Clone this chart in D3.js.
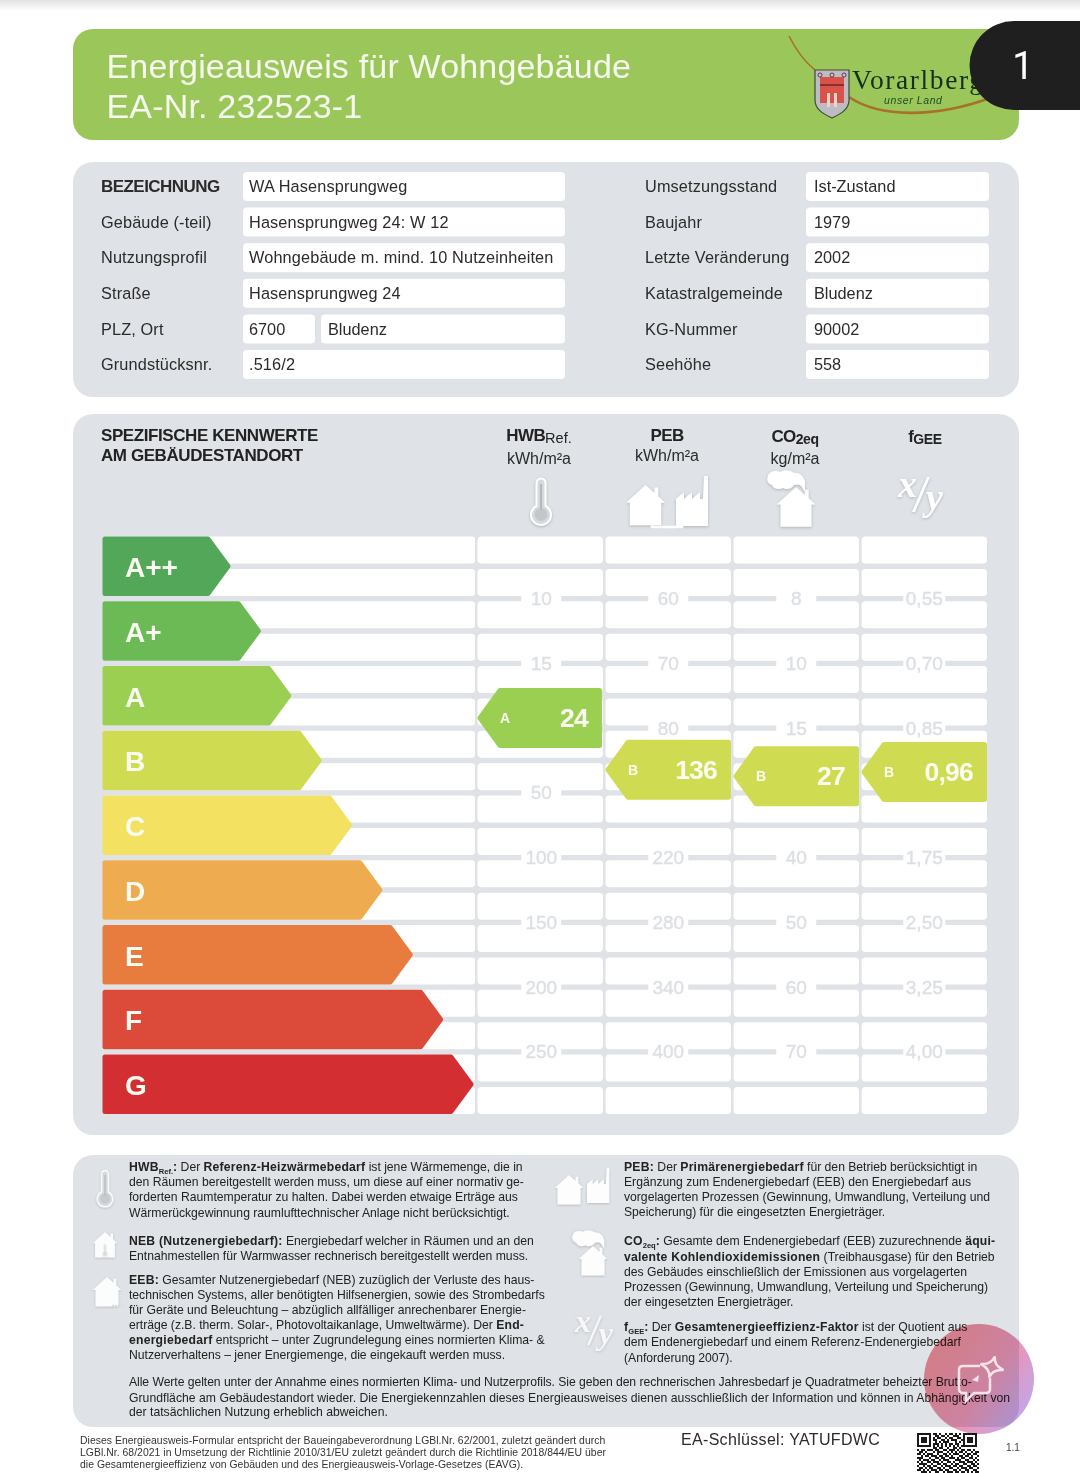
<!DOCTYPE html>
<html lang="de"><head><meta charset="utf-8">
<script src="https://d3js.org/d3.v7.min.js"></script>
<style>html,body{margin:0;padding:0;background:#fff}svg{display:block}text{font-family:"Liberation Sans",Arial,sans-serif}</style>
</head><body><div id="c"></div>
<script>
// ---------- data ----------
const classes=["A++","A+","A","B","C","D","E","F","G"];
const classColors=["#52a858","#6cba55","#9bcf52","#cfdc52","#f3e162","#eeab4f","#e87c3f","#dc4a3a","#d32f33"];
const colNames=["HWB","PEB","CO2","fGEE"];
const hwbTicks=[10,15,25,50,100,150,200,250];
const pebTicks=[60,70,80,160,220,280,340,400];
const co2Ticks=[8,10,15,30,40,50,60,70];
const fgeeTicks=[0.55,0.70,0.85,1.00,1.75,2.50,3.25,4.00];
const resultValues=[24,136,27,0.96];
const resultClasses=["A","B","B","B"];
const leftFields=[["BEZEICHNUNG","WA Hasensprungweg"],["Gebäude (-teil)","Hasensprungweg 24: W 12"],["Nutzungsprofil","Wohngebäude m. mind. 10 Nutzeinheiten"],["Straße","Hasensprungweg 24"],["PLZ, Ort","6700","Bludenz"],["Grundstücksnr.",".516/2"]];
const rightFields=[["Umsetzungsstand","Ist-Zustand"],["Baujahr","1979"],["Letzte Veränderung","2002"],["Katastralgemeinde","Bludenz"],["KG-Nummer","90002"],["Seehöhe","558"]];
const notesLeft=[
 "**HWB**~Ref.~**:** Der **Referenz-Heizwärmebedarf** ist jene Wärmemenge, die in","den Räumen bereitgestellt werden muss, um diese auf einer normativ ge-","forderten Raumtemperatur zu halten. Dabei werden etwaige Erträge aus","Wärmerückgewinnung raumlufttechnischer Anlage nicht berücksichtigt.",
 "**NEB (Nutzenergiebedarf):** Energiebedarf welcher in Räumen und an den","Entnahmestellen für Warmwasser rechnerisch bereitgestellt werden muss.",
 "**EEB:** Gesamter Nutzenergiebedarf (NEB) zuzüglich der Verluste des haus-","technischen Systems, aller benötigten Hilfsenergien, sowie des Strombedarfs","für Geräte und Beleuchtung – abzüglich allfälliger anrechenbarer Energie-","erträge (z.B. therm. Solar-, Photovoltaikanlage, Umweltwärme). Der **End-**","**energiebedarf** entspricht – unter Zugrundelegung eines normierten Klima- &","Nutzerverhaltens – jener Energiemenge, die eingekauft werden muss."];
const notesRight=[
 "**PEB:** Der **Primärenergiebedarf** für den Betrieb berücksichtigt in","Ergänzung zum Endenergiebedarf (EEB) den Energiebedarf aus","vorgelagerten Prozessen (Gewinnung, Umwandlung, Verteilung und","Speicherung) für die eingesetzten Energieträger.",
 "**CO**~2eq~**:** Gesamte dem Endenergiebedarf (EEB) zuzurechnende **äqui-**","**valente Kohlendioxidemissionen** (Treibhausgase) für den Betrieb","des Gebäudes einschließlich der Emissionen aus vorgelagerten","Prozessen (Gewinnung, Umwandlung, Verteilung und Speicherung)","der eingesetzten Energieträger.",
 "**f**~GEE~**:** Der **Gesamtenergieeffizienz-Faktor** ist der Quotient aus","dem Endenergiebedarf und einem Referenz-Endenergiebedarf","(Anforderung 2007)."];
const notesBottom=["Alle Werte gelten unter der Annahme eines normierten Klima- und Nutzerprofils. Sie geben den rechnerischen Jahresbedarf je Quadratmeter beheizter Brutto-","Grundfläche am Gebäudestandort wieder. Die Energiekennzahlen dieses Energieausweises dienen ausschließlich der Information und können in Abhängigkeit von","der tatsächlichen Nutzung erheblich abweichen."];
const footerLines=["Dieses Energieausweis-Formular entspricht der Baueingabeverordnung LGBl.Nr. 62/2001, zuletzt geändert durch","LGBl.Nr. 68/2021 in Umsetzung der Richtlinie 2010/31/EU zuletzt geändert durch die Richtlinie 2018/844/EU über","die Gesamtenergieeffizienz von Gebäuden und des Energieausweis-Vorlage-Gesetzes (EAVG)."];
const qrRows=["1111111011010010110101011111110","1000001001101101001110010000010","1011101010110010110011010111010","1011101011001101011100110111010","1011101001010111000101010111010","1000001011101010110110010000010","1111111010101010101010111111110","0000000011011001001101000000000","1011011101100110111010110110100","0110100010111001010101101001011","1101011100100110101110010110110","0010110111011011010001101101001","1110001001101100111010110011010","0101110110010111000111001100101","1010011011101001101001110111010","0111100100110110010110011001101","1001011011001011101101100110110","0110101100110100110010111011001","1101010111011011001101001100110","0011101001100101110110110101011"];
// ---------- scales ----------
const W=1080,H=1473;
const svg=d3.select("#c").append("svg").attr("width",W).attr("height",H).attr("viewBox",`0 0 ${W} ${H}`);
const rowTop=d3.scaleLinear().domain([0,8]).range([536.5,1054.5]);
const tipX=d3.scalePoint().domain(classes).range([230.5,473.5]);
const colX=d3.scaleBand().domain(colNames).range([477.5,987]).paddingInner(0.02).paddingOuter(0);
const tickY=d3.range(8).map(i=>rowTop(i)+61.5);
const yScales={HWB:d3.scaleLinear().domain(hwbTicks).range(tickY),PEB:d3.scaleLinear().domain(pebTicks).range(tickY),CO2:d3.scaleLinear().domain(co2Ticks).range(tickY),fGEE:d3.scaleLinear().domain(fgeeTicks).range(tickY)};
const colTicks={HWB:hwbTicks,PEB:pebTicks,CO2:co2Ticks,fGEE:fgeeTicks};
const fmt={HWB:d=>d,PEB:d=>d,CO2:d=>d,fGEE:d=>d3.format(".2f")(d).replace(".",",")};
const colorOf=d3.scaleOrdinal().domain(classes).range(classColors);
// ---------- defs ----------
const defs=svg.append("defs");
const g1=defs.append("linearGradient").attr("id","top").attr("x1",0).attr("x2",0).attr("y1",0).attr("y2",1);
g1.append("stop").attr("offset",0).attr("stop-color","#e2e2e2");g1.append("stop").attr("offset",1).attr("stop-color","#fff");
const g2=defs.append("linearGradient").attr("id","ai").attr("x1",0.1).attr("y1",0.3).attr("x2",0.9).attr("y2",0.85);
g2.append("stop").attr("offset",0).attr("stop-color","#f08d98");g2.append("stop").attr("offset",0.55).attr("stop-color","#ea94b2");g2.append("stop").attr("offset",1).attr("stop-color","#c4a6ea");
const fl=defs.append("filter").attr("id","sh").attr("x","-30%").attr("y","-30%").attr("width","160%").attr("height","160%");
fl.append("feDropShadow").attr("dx",0).attr("dy",1).attr("stdDeviation",1.6).attr("flood-color","#9aa0a6").attr("flood-opacity",0.7);
const PANEL="#dfe2e6";
// ---------- helpers ----------
function rich(sel,str,x,y,size,fill){
  const t=sel.append("text").attr("x",x).attr("y",y).attr("font-size",size).attr("fill",fill||"#222");
  let back=0;
  str.split(/(\*\*.*?\*\*|~.*?~)/).filter(s=>s).forEach(p=>{
    let sp;
    if(p.startsWith("**"))sp=t.append("tspan").attr("font-weight","bold").attr("letter-spacing",0.22).text(p.slice(2,-2));
    else if(p.startsWith("~")){t.append("tspan").attr("font-size",size*0.62).attr("font-weight","bold").attr("dy",2.5).text(p.slice(1,-1));back=-2.5;return;}
    else sp=t.append("tspan").text(p);
    if(back){sp.attr("dy",back);back=0;}
  });
  return t;
}
function arrowPath(l,r,t,h,s){return `M${l},${t}H${r-s}L${r},${t+h/2}L${r-s},${t+h}H${l}Z`;}
function tagPath(l,r,t,h,s){return `M${r},${t}V${t+h}H${l+s}L${l},${t+h/2}L${l+s},${t}Z`;}
const thermo=(g,x,y,k,o)=>{const a=g.append("g").attr("transform",`translate(${x},${y}) scale(${k})`).attr("filter","url(#sh)").attr("opacity",o||1);
  a.append("path").attr("d","M-4.5,27V4a4.5,4.5 0 0 1 9,0V27a10,10 0 1 1 -9,0Z").attr("fill","#d6d9dd").attr("stroke","#fff").attr("stroke-width",2);
  a.append("circle").attr("cy",35.5).attr("r",6.5).attr("fill","#c3c6ca");a.append("rect").attr("x",-1).attr("y",5).attr("width",2).attr("height",26).attr("fill","#b5b8bc");};
const house=(g,x,y,k,o)=>g.append("path").attr("transform",`translate(${x},${y}) scale(${k})`).attr("filter","url(#sh)").attr("opacity",o||1).attr("fill","#fff").attr("d","M0,0L9,8V2.5H13V11.5L20,18H16V41H-16V18H-20Z");
const factory=(g,x,y,k,o)=>g.append("path").attr("transform",`translate(${x},${y}) scale(${k})`).attr("filter","url(#sh)").attr("opacity",o||1).attr("fill","#fff").attr("d","M0,23L8,16V23L16,16V23L24,16V23H27L28,0H32V50H0Z");
const cloud=(g,x,y,k,o)=>g.append("path").attr("transform",`translate(${x},${y}) scale(${k})`).attr("filter","url(#sh)").attr("opacity",o||1).attr("fill","#fff").attr("d","M1,6C2,1 9,0 13,2C17,-1 24,0 27,3C32,2 37,6 38,12L38,22L35,17C33,14 30,14 27,15C25,19 19,20 16,18C12,20 6,19 5,15C1,14 -1,10 1,6Z");
const xy=(g,x,y,k,o)=>{const a=g.append("g").attr("transform",`translate(${x},${y}) scale(${k})`).attr("filter","url(#sh)").attr("opacity",o||1).attr("fill","#fff");
  a.append("text").style("font-family","'Liberation Serif'").attr("font-style","italic").attr("font-weight","bold").attr("font-size",38).attr("y",17).text("x");
  a.append("path").attr("d","M29,-3H32L17,32H14Z");
  a.append("text").style("font-family","'Liberation Serif'").attr("font-style","italic").attr("font-weight","bold").attr("font-size",38).attr("x",28).attr("y",30).text("y");};
// ---------- background ----------
svg.append("rect").attr("width",W).attr("height",H).attr("fill","#fff");
svg.append("rect").attr("width",W).attr("height",11).attr("fill","url(#top)");
// ---------- header ----------
svg.append("rect").attr("x",73).attr("y",29).attr("width",946).attr("height",111).attr("rx",20).attr("fill","#9bc75a");
const hdr=svg.append("g").attr("fill","#f5f9ee").attr("font-size",34);
hdr.append("text").attr("x",106.5).attr("y",78).attr("letter-spacing",0.18).text("Energieausweis für Wohngebäude");
hdr.append("text").attr("x",106.5).attr("y",118).attr("letter-spacing",0.18).text("EA-Nr. 232523-1");
// logo
svg.append("path").attr("d","M789,36C796,50 805,62 815,70").attr("fill","none").attr("stroke","#a8702b").attr("stroke-width",1.6);
svg.append("path").attr("d","M849,97C880,118 935,118 990,98").attr("fill","none").attr("stroke","#a8702b").attr("stroke-width",2.6);
const sh=svg.append("g");
sh.append("path").attr("d","M815,70H849V100C849,110 840,114 832,118C824,114 815,110 815,100Z").attr("fill","#bcbcc2").attr("stroke","#3d4a3a").attr("stroke-width",1.2);
sh.append("rect").attr("x",820).attr("y",77).attr("width",24).attr("height",26).attr("fill","#d8524a");
sh.append("rect").attr("x",820).attr("y",84).attr("width",24).attr("height",2).attr("fill","#8a2f2a");
sh.append("rect").attr("x",827).attr("y",93).attr("width",3).attr("height",14).attr("fill","#f0d3c8");
sh.append("rect").attr("x",834).attr("y",93).attr("width",3).attr("height",14).attr("fill","#f0d3c8");
sh.selectAll("circle").data([820,832,844]).join("circle").attr("cx",d=>d).attr("cy",75).attr("r",2).attr("fill","#c9c9cc").attr("stroke","#5a3a4a");
svg.append("text").style("font-family","'Liberation Serif'").attr("x",852).attr("y",89).attr("font-size",27.5).attr("letter-spacing",1.6).attr("fill","#12311c").text("Vorarlberg");
svg.append("text").attr("x",884).attr("y",103.5).attr("font-size",10.5).attr("font-style","italic").attr("fill","#1f4a28").attr("letter-spacing",0.6).text("unser Land");
// tab
svg.append("path").attr("d","M1080,21H1014A44.5,44.5 0 0 0 1014,110H1080Z").attr("fill","#1f1f1f");
svg.append("text").style("font-family","Roboto").attr("x",1023).attr("y",79).attr("text-anchor","middle").attr("font-size",38).attr("fill","#fff").text("1");
// ---------- info panel ----------
svg.append("rect").attr("x",73).attr("y",162).attr("width",946).attr("height",235).attr("rx",20).attr("fill",PANEL);
const infoY=d3.scaleLinear().domain([0,5]).range([172,350]);
const info=svg.append("g").attr("font-size",16.3).attr("fill","#2b2b2b");
function box(x,y,w){info.append("rect").attr("x",x).attr("y",y).attr("width",w).attr("height",29).attr("rx",4).attr("fill","#fff");}
leftFields.forEach((f,i)=>{const y=infoY(i);
  info.append("text").attr("x",101).attr("y",y+20.2).attr("font-weight",i?null:"bold").attr("letter-spacing",i?0.13:-0.55).attr("font-size",i?16.3:17).text(f[0]);
  if(f.length===3){box(243,y,72);box(321,y,244);info.append("text").attr("x",249).attr("y",y+20.2).text(f[1]);info.append("text").attr("x",328).attr("y",y+20.2).text(f[2]);}
  else{box(243,y,322);info.append("text").attr("x",249).attr("y",y+20.2).attr("letter-spacing",0.14).text(f[1]);}
});
rightFields.forEach((f,i)=>{const y=infoY(i);
  info.append("text").attr("x",645).attr("y",y+20.2).attr("letter-spacing",0.13).text(f[0]);
  box(806,y,183);info.append("text").attr("x",814).attr("y",y+20.2).text(f[1]);
});
// ---------- chart panel ----------
svg.append("rect").attr("x",73).attr("y",414).attr("width",946).attr("height",721).attr("rx",20).attr("fill",PANEL);
const ch=svg.append("g");
ch.append("text").attr("x",101).attr("y",441).attr("font-size",17).attr("font-weight","bold").attr("letter-spacing",-0.42).attr("fill","#222").text("SPEZIFISCHE KENNWERTE");
ch.append("text").attr("x",101).attr("y",461).attr("font-size",17).attr("font-weight","bold").attr("letter-spacing",-0.42).attr("fill","#222").text("AM GEBÄUDESTANDORT");
// column heads
const heads=[{c:539,y:441,u:"kWh/m²a",uy:464,m:"HWB",s:"Ref.",sb:false},{c:667,y:441,u:"kWh/m²a",uy:461,m:"PEB",s:"",sb:true},{c:795,y:442,u:"kg/m²a",uy:464,m:"CO",s:"2eq",sb:true},{c:925,y:442,u:"",m:"f",s:"GEE",sb:true}];
heads.forEach(h=>{
  const t=ch.append("text").attr("x",h.c).attr("y",h.y).attr("text-anchor","middle").attr("font-size",17).attr("fill","#222");
  t.append("tspan").attr("font-weight","bold").attr("letter-spacing",-0.6).text(h.m);
  if(h.s)t.append("tspan").attr("dy",2).attr("font-size",h.sb?14:14.5).attr("font-weight",h.sb?"bold":null).attr("letter-spacing",h.sb?-0.4:0).text(h.s);
  if(h.u)ch.append("text").attr("x",h.c).attr("y",h.uy).attr("text-anchor","middle").attr("font-size",16).attr("fill","#2b2b2b").text(h.u);
});
thermo(ch,541,479,1);
house(ch,645.5,485,0.98);factory(ch,676,476,1);
ch.append("path").attr("d","M652,522V527H682V522").attr("fill","none").attr("stroke","#fff").attr("stroke-width",2.5);
house(ch,796,487,0.97);cloud(ch,767,470,1);
xy(ch,898,480,1);
// cells
const rows=d3.range(9);
ch.append("g").selectAll("rect").data(rows.flatMap(i=>[[i,0],[i,1]])).join("rect")
  .attr("x",103).attr("width",372).attr("y",d=>rowTop(d[0])+d[1]*32.5).attr("height",27).attr("rx",3).attr("fill","#fff");
colNames.forEach((c,ci)=>{
  ch.append("g").selectAll("rect").data(rows.flatMap(i=>[[i,0],[i,1]])).join("rect")
    .attr("x",colX(c)).attr("width",colX.bandwidth()).attr("y",d=>rowTop(d[0])+d[1]*32.5).attr("height",27).attr("rx",4).attr("fill","#fff");
  const ty=yScales[c], covered=ty(resultValues[ci])-3;
  const gt=ch.append("g").selectAll("g").data(colTicks[c].filter(d=>Math.abs(ty(d)-covered)>30)).join("g").attr("transform",d=>`translate(${colX(c)+colX.bandwidth()/2+(c==="HWB"?1:0)},${ty(d)})`);
  gt.append("rect").attr("x",c==="fGEE"?-21:-20).attr("width",c==="fGEE"?42:40).attr("y",-9).attr("height",18).attr("fill","#fff");
  gt.append("text").attr("text-anchor","middle").attr("y",7).attr("font-size",19).attr("fill","#dde0e4").attr("stroke","#dde0e4").attr("stroke-width",0.45).text(fmt[c]);
});
// class arrows
const bars=ch.append("g").selectAll("g").data(classes).join("g");
bars.append("path").attr("d",(d,i)=>arrowPath(105,tipX(d)-2.5,rowTop(i)+2.5,54.5,20)).attr("fill",d=>colorOf(d)).attr("stroke",d=>colorOf(d)).attr("stroke-width",5).attr("stroke-linejoin","round");
bars.append("text").attr("x",125).attr("y",(d,i)=>rowTop(i)+40.5).attr("font-size",28).attr("font-weight","bold").attr("fill","#fafcf2").text(d=>d);
// result tags
colNames.forEach((c,i)=>{
  const y=yScales[c](resultValues[i])-3, l=colX(c), r=l+colX.bandwidth()-(i?0:1);
  const g=ch.append("g");
  g.append("path").attr("d",tagPath(l+2.5,r-2.5,y-27.5,55,20)).attr("fill",colorOf(resultClasses[i])).attr("stroke",colorOf(resultClasses[i])).attr("stroke-width",5).attr("stroke-linejoin","round");
  g.append("text").attr("x",l+27.5).attr("y",y+5).attr("text-anchor","middle").attr("font-size",14).attr("font-weight","bold").attr("fill","#fbfdf2").text(resultClasses[i]);
  g.append("text").attr("x",r-14).attr("y",y+9).attr("text-anchor","end").attr("font-size",26.5).attr("font-weight","bold").attr("letter-spacing",-0.8).attr("fill","#fbfdf2").text(fmt[c](resultValues[i]));
});
// ---------- notes panel ----------
svg.append("rect").attr("x",73).attr("y",1155).attr("width",946).attr("height",272).attr("rx",20).attr("fill",PANEL);
const nt=svg.append("g");
const leftY=[1171,1186,1201,1217,1245,1260,1284,1299,1314,1329,1344,1359];
const rightY=[1171,1186,1201,1216,1245,1261,1276,1291,1306,1331,1346,1362];
notesLeft.forEach((s,i)=>rich(nt,s,129,leftY[i],12.2).attr("letter-spacing",-0.02));
notesRight.forEach((s,i)=>rich(nt,s,624,rightY[i],12.2).attr("letter-spacing",-0.02));
notesBottom.forEach((s,i)=>rich(nt,s,129,[1386,1402,1416][i],12.2).attr("letter-spacing",[-0.06,0.02,0][i]));
thermo(nt,105,1171,0.78,0.85);
house(nt,105,1232,0.62,0.9);thermo(nt,105,1244,0.28,0.6);
house(nt,107,1277,0.72,0.9);
nt.append("path").attr("d","M112,1306H122").attr("stroke","#d8d8d8").attr("stroke-width",2).attr("stroke-dasharray","2 1");
house(nt,569,1175,0.72,0.95);factory(nt,587,1168,0.7,0.95);
cloud(nt,572,1230,0.85,0.95);house(nt,593,1246,0.72,0.95);
xy(nt,575,1318,0.85,0.75);
// ---------- footer ----------
const ft=svg.append("g");
footerLines.forEach((s,i)=>ft.append("text").attr("x",80).attr("y",1443.5+i*12.3).attr("font-size",10.4).attr("letter-spacing",0.04).attr("fill","#333").text(s));
ft.append("text").attr("x",681).attr("y",1445).attr("font-size",16).attr("letter-spacing",0.32).attr("fill","#2b2b2b").text("EA-Schlüssel: YATUFDWC");
ft.append("text").attr("x",1006).attr("y",1451).attr("font-size",10).attr("fill","#444").text("1.1");
const qrX=d3.scaleBand().domain(d3.range(31)).range([917,979]);
const qrY=d3.scaleBand().domain(d3.range(20)).range([1433,1473]);
ft.append("g").selectAll("rect").data(qrRows.flatMap((r,y)=>r.split("").map((b,x)=>({x,y,b})).filter(d=>d.b==="1"))).join("rect")
  .attr("x",d=>qrX(d.x)).attr("y",d=>qrY(d.y)).attr("width",2).attr("height",2).attr("fill","#1a1a1a");
// ---------- floating button ----------
const ai=svg.append("g");
ai.append("circle").attr("cx",979).attr("cy",1379).attr("r",55).attr("fill","url(#ai)").style("mix-blend-mode","multiply");
ai.append("path").attr("d","M980,1366H963Q959,1366 959,1370V1389Q959,1393 963,1393H966V1401L974,1393H986Q990,1393 990,1389V1378").attr("fill","none").attr("stroke","#f6e4ea").attr("stroke-width",2.5);
ai.append("path").attr("d","M992,1356Q993,1365 1004,1367Q993,1369 992,1378Q991,1369 980,1367Q991,1365 992,1356Z").attr("transform","rotate(15 992 1367)").attr("fill","none").attr("stroke","#f6e4ea").attr("stroke-width",2.5);
ai.append("path").attr("d","M972,1380L979,1375L978,1382Z").attr("fill","#f6e4ea");
</script></body></html>
